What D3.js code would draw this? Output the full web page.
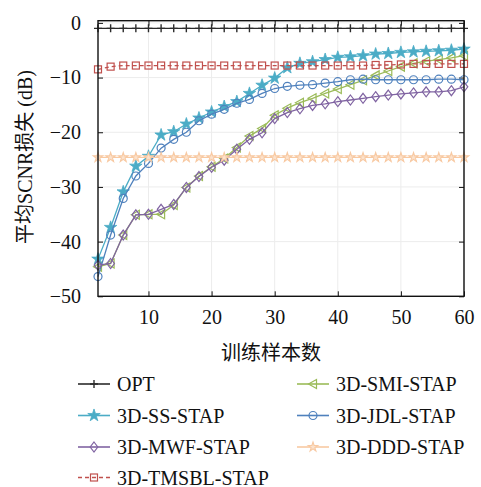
<!DOCTYPE html>
<html>
<head>
<meta charset="utf-8">
<script src="https://cdn.jsdelivr.net/npm/d3@7"></script>
<style>
  body { margin: 0; background: #fff; }
  svg { display: block; }
</style>
</head>
<body>
<svg id="chart" width="481" height="487"></svg>
<script>
// training samples (x)
var samples = [2, 4, 6, 8, 10, 12, 14, 16, 18, 20, 22, 24, 26, 28, 30,
               32, 34, 36, 38, 40, 42, 44, 46, 48, 50, 52, 54, 56, 58, 60];

var optVals = [-1, -1, -1, -1, -1, -1, -1, -1, -1, -1, -1, -1, -1, -1, -1,
               -1, -1, -1, -1, -1, -1, -1, -1, -1, -1, -1, -1, -1, -1, -1];
var smiVals = [-44.6, -44.0, -38.8, -35.1, -35.0, -35.0, -33.3, -30.1, -28.0, -26.3,
               -24.8, -22.8, -20.7, -19.3, -16.9, -15.6, -14.6, -13.8, -12.9, -12.1,
               -11.3, -10.5, -9.6, -8.8, -8.0, -7.4, -7.0, -6.7, -6.4, -6.0];
var ssVals = [-43.2, -37.4, -30.9, -26.2, -24.4, -20.5, -19.9, -18.5, -17.4, -16.3,
              -15.3, -14.4, -12.9, -11.4, -10.1, -8.2, -7.4, -7.1, -6.7, -6.3,
              -6.2, -6.0, -5.7, -5.6, -5.4, -5.3, -5.2, -5.1, -5.0, -4.8];
var jdlVals = [-46.4, -38.8, -32.1, -28.0, -25.7, -22.9, -21.3, -20.0, -17.9, -16.7,
               -15.8, -14.7, -14.0, -12.9, -12.0, -11.6, -11.4, -11.3, -11.0, -10.75,
               -10.4, -10.3, -10.4, -10.4, -10.4, -10.4, -10.4, -10.3, -10.3, -10.4];
var mwfVals = [-44.3, -44.0, -38.8, -35.1, -35.0, -34.1, -33.2, -30.1, -28.1, -26.4,
               -25.1, -23.1, -21.3, -20.1, -17.5, -16.4, -15.7, -15.1, -14.8, -14.4,
               -14.1, -13.8, -13.5, -13.2, -13.0, -12.8, -12.6, -12.6, -12.4, -11.7];
var dddVals = [-24.6, -24.6, -24.6, -24.6, -24.6, -24.6, -24.6, -24.6, -24.6, -24.6,
               -24.6, -24.6, -24.6, -24.6, -24.6, -24.6, -24.6, -24.6, -24.6, -24.6,
               -24.6, -24.6, -24.6, -24.6, -24.6, -24.6, -24.6, -24.6, -24.6, -24.6];
var tmsblVals = [-8.5, -8.0, -7.8, -7.8, -7.8, -7.8, -7.8, -7.8, -7.8, -7.8,
                 -7.8, -7.8, -7.8, -7.8, -7.8, -7.8, -7.8, -7.8, -7.8, -7.8,
                 -7.8, -7.8, -7.7, -7.7, -7.6, -7.5, -7.5, -7.5, -7.5, -7.5];

var xTicks = [10, 20, 30, 40, 50, 60];
var yTicks = [0, -10, -20, -30, -40, -50];

var series = [
    {name: 'OPT',            vals: optVals,   color: '#2b2b2b', marker: 'plus'},
    {name: '3D-SMI-STAP',    vals: smiVals,   color: '#9bbb59', marker: 'triangle'},
    {name: '3D-SS-STAP',     vals: ssVals,    color: '#4bacc6', marker: 'star'},
    {name: '3D-JDL-STAP',    vals: jdlVals,   color: '#4f81bd', marker: 'circle'},
    {name: '3D-MWF-STAP',    vals: mwfVals,   color: '#8064a2', marker: 'diamond'},
    {name: '3D-DDD-STAP',    vals: dddVals,   color: '#f8c9a2', marker: 'hexagram'},
    {name: '3D-TMSBL-STAP',  vals: tmsblVals, color: '#c0504d', marker: 'square', dash: '4,3'}
];

var SERIF = "'Liberation Serif', 'DejaVu Serif', 'Noto Sans CJK SC', serif";
var CJK = "'Noto Sans CJK SC', sans-serif";

var svg = d3.select('#chart');
var pLeft = 98, pRight = 464, pTop = 20.7, pBottom = 296.3;

var x = d3.scaleLinear().domain([2, 60]).range([pLeft, pRight]);
var y = d3.scaleLinear().domain([-50, 0.4]).range([pBottom, pTop]);

// grid
var grid = svg.append('g');
grid.selectAll('.vg').data(xTicks).enter().append('line')
    .attr('x1', function(d) { return x(d); }).attr('x2', function(d) { return x(d); })
    .attr('y1', pTop).attr('y2', pBottom)
    .attr('stroke', '#ececec').attr('stroke-width', 1);
grid.selectAll('.hg').data(yTicks).enter().append('line')
    .attr('y1', function(d) { return y(d); }).attr('y2', function(d) { return y(d); })
    .attr('x1', pLeft).attr('x2', pRight)
    .attr('stroke', '#ececec').attr('stroke-width', 1);

// axes (inside ticks, mirrored)
var fmt = function(d) { return d < 0 ? '\u2212' + Math.abs(d) : String(d); };
function styleAxis(g) {
    g.select('.domain').remove();
    g.attr('font-family', SERIF).attr('font-size', 20);
    g.selectAll('text').style('font-family', SERIF).style('font-size', '20px').attr('fill', '#111');
    g.selectAll('line').attr('stroke', '#111');
}
svg.append('g').attr('transform', 'translate(0,' + pBottom + ')')
    .call(d3.axisBottom(x).tickValues(xTicks).tickSizeInner(-5).tickSizeOuter(0).tickPadding(14))
    .call(styleAxis);
svg.append('g').attr('transform', 'translate(0,' + pTop + ')')
    .call(d3.axisTop(x).tickValues(xTicks).tickSizeInner(-5).tickSizeOuter(0).tickFormat(''))
    .call(styleAxis);
svg.append('g').attr('transform', 'translate(' + pLeft + ',0)')
    .call(d3.axisLeft(y).tickValues(yTicks).tickSizeInner(-5).tickSizeOuter(0).tickPadding(17).tickFormat(fmt))
    .call(styleAxis);
svg.append('g').attr('transform', 'translate(' + pRight + ',0)')
    .call(d3.axisRight(y).tickValues(yTicks).tickSizeInner(-5).tickSizeOuter(0).tickFormat(''))
    .call(styleAxis);

function drawMarker(g, type, color, cx, cy) {
    var m;
    if (type === 'plus') {
        m = g.append('path').attr('d', 'M' + (cx - 4) + ',' + cy + 'H' + (cx + 4) + 'M' + cx + ',' + (cy - 4) + 'V' + (cy + 4))
            .attr('stroke', color).attr('stroke-width', 1.4).attr('fill', 'none');
    } else if (type === 'star') {
        m = g.append('path').attr('d', d3.symbol(d3.symbolStar, 48)())
            .attr('transform', 'translate(' + cx + ',' + cy + ')')
            .attr('fill', color).attr('stroke', color).attr('stroke-width', 0.8);
    } else if (type === 'circle') {
        m = g.append('circle').attr('cx', cx).attr('cy', cy).attr('r', 4)
            .attr('fill', 'none').attr('stroke', color).attr('stroke-width', 1.2);
    } else if (type === 'diamond') {
        m = g.append('path').attr('d', 'M0,-5L3.8,0L0,5L-3.8,0Z')
            .attr('transform', 'translate(' + cx + ',' + cy + ')')
            .attr('fill', 'none').attr('stroke', color).attr('stroke-width', 1.2);
    } else if (type === 'triangle') {
        m = g.append('path').attr('d', 'M-4.5,0L3.5,-4.5L3.5,4.5Z')
            .attr('transform', 'translate(' + cx + ',' + cy + ')')
            .attr('fill', 'none').attr('stroke', color).attr('stroke-width', 1.2);
    } else if (type === 'square') {
        m = g.append('rect').attr('x', cx - 3.5).attr('y', cy - 3.5).attr('width', 7).attr('height', 7)
            .attr('fill', 'none').attr('stroke', color).attr('stroke-width', 1.2);
    } else if (type === 'hexagram') {
        m = g.append('path').attr('d', d3.symbol(d3.symbolStar, 28)())
            .attr('transform', 'translate(' + cx + ',' + cy + ')')
            .attr('fill', '#fbe2cd').attr('stroke', color).attr('stroke-width', 1.1);
    }
    return m;
}

var line = d3.line()
    .x(function(d, i) { return x(samples[i]); })
    .y(function(d) { return y(d); });

series.forEach(function(s) {
    var g = svg.append('g');
    g.append('path').datum(s.vals)
        .attr('d', line)
        .attr('fill', 'none')
        .attr('stroke', s.color)
        .attr('stroke-width', 1.3)
        .attr('stroke-dasharray', s.dash || null);
    s.vals.forEach(function(v, i) {
        drawMarker(g, s.marker, s.color, x(samples[i]), y(v));
    });
});

// frame
svg.append('rect').attr('x', pLeft).attr('y', pTop)
    .attr('width', pRight - pLeft).attr('height', pBottom - pTop)
    .attr('fill', 'none').attr('stroke', '#111').attr('stroke-width', 1.4);

// axis titles
svg.append('text').attr('x', (pLeft + pRight) / 2 - 10).attr('y', 360)
    .attr('text-anchor', 'middle').attr('fill', '#111')
    .style('font-size', '20px').style('font-family', CJK)
    .text('训练样本数');
var yt = svg.append('text')
    .attr('transform', 'translate(32,' + 157 + ') rotate(-90)')
    .attr('text-anchor', 'middle').attr('fill', '#111')
    .style('font-size', '20px').style('font-family', SERIF);
yt.append('tspan').style('font-family', CJK).text('平均');
yt.append('tspan').text('SCNR');
yt.append('tspan').style('font-family', CJK).text('损失');
yt.append('tspan').text(' (dB)');

// legend
var legendPos = [
    [78, 384], [78, 415.5], [78, 447], [78, 477.5],
    [297, 384], [297, 415.5], [297, 447]
];
var legendOrder = ['OPT', '3D-SS-STAP', '3D-MWF-STAP', '3D-TMSBL-STAP',
                   '3D-SMI-STAP', '3D-JDL-STAP', '3D-DDD-STAP'];
legendOrder.forEach(function(name, k) {
    var s = series.filter(function(t) { return t.name === name; })[0];
    var p = legendPos[k];
    var g = svg.append('g');
    g.append('line').attr('x1', p[0]).attr('x2', p[0] + 32).attr('y1', p[1]).attr('y2', p[1])
        .attr('stroke', s.color).attr('stroke-width', 1.6)
        .attr('stroke-dasharray', s.dash || null);
    drawMarker(g, s.marker, s.color, p[0] + 16, p[1]);
    g.append('text').attr('x', p[0] + 39).attr('y', p[1] + 7).attr('fill', '#111')
        .style('font-size', '20px').style('font-family', SERIF).text(name);
});
</script>
</body>
</html>
